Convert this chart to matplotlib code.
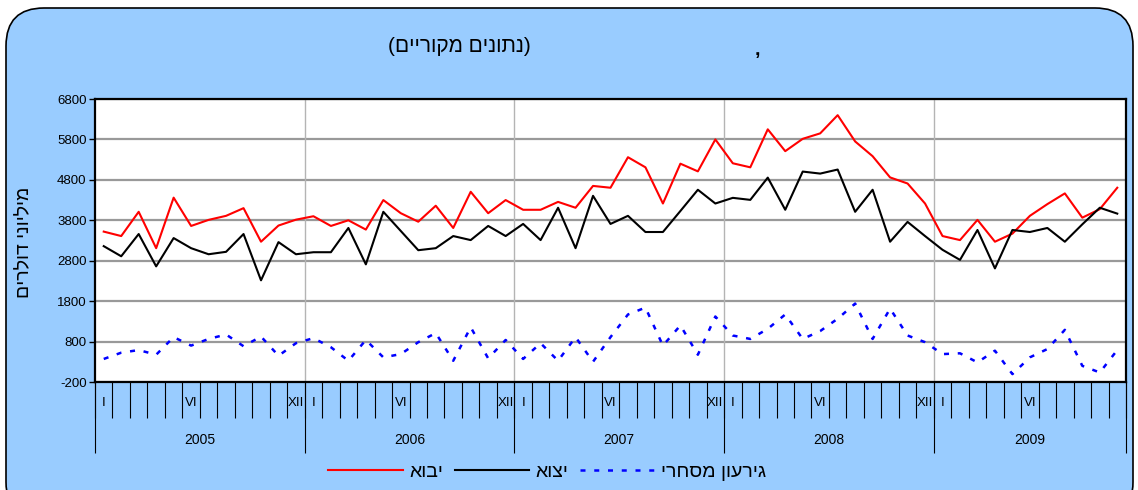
#!/usr/bin/env python3
import matplotlib
matplotlib.use('Agg')
import matplotlib.pyplot as plt
from matplotlib.patches import FancyBboxPatch

plt.rcParams['font.family'] = ['Liberation Sans', 'DejaVu Sans']

# monthly values, millions of dollars (Jan 2005 - Nov 2009)
imports = [3520, 3410, 4010, 3110, 4360, 3660, 3810, 3910, 4100, 3270, 3670, 3815,
           3900, 3660, 3800, 3570, 4300, 3975, 3765, 4160, 3610, 4505, 3975, 4300,
           4060, 4060, 4255, 4110, 4650, 4605, 5360, 5110, 4215, 5200, 5010, 5800,
           5210, 5110, 6050, 5510, 5815, 5950, 6400, 5750, 5385, 4860, 4710, 4215,
           3410, 3310, 3810, 3270, 3470, 3910, 4200, 4465, 3865, 4075, 4605]
exports = [3160, 2910, 3460, 2660, 3360, 3110, 2960, 3020, 3460, 2315, 3260, 2960,
           3010, 3010, 3610, 2710, 4010, 3535, 3060, 3110, 3410, 3310, 3660, 3410,
           3710, 3310, 4110, 3110, 4405, 3710, 3910, 3510, 3510, 4030, 4555, 4215,
           4355, 4305, 4855, 4060, 5005, 4955, 5055, 4010, 4555, 3270, 3760, 3410,
           3070, 2820, 3560, 2610, 3560, 3510, 3610, 3270, 3700, 4110, 3965]
deficit = [370, 525, 590, 475, 910, 700, 865, 975, 685, 925, 450, 760,
           885, 660, 325, 840, 410, 490, 785, 1010, 325, 1155, 385, 840,
           370, 760, 325, 910, 300, 910, 1470, 1640, 700, 1200, 475, 1420,
           950, 865, 1115, 1470, 865, 1060, 1365, 1740, 865, 1615, 950, 785,
           490, 510, 285, 575, -5, 410, 615, 1090, 200, 35, 590]

years = ['2005', '2006', '2007', '2008', '2009']
months_per_year = [12, 12, 12, 12, 11]
month_labels = {0: 'I', 5: 'VI', 11: 'XII'}
yticks = [-200, 800, 1800, 2800, 3800, 4800, 5800, 6800]


def heb(s):
    # matplotlib has no bidi: give Hebrew in visual order
    swap = {'(': ')', ')': '('}
    return ''.join(swap.get(c, c) for c in s[::-1])


n = len(imports)
x = list(range(n))

fig = plt.figure(figsize=(11.38, 4.9), dpi=100)
fig.patch.set_facecolor('white')
bg = FancyBboxPatch((0.06, -0.3), 11.27, 5.12,
                    boxstyle='round,pad=0,rounding_size=0.38',
                    transform=fig.dpi_scale_trans, facecolor='#99CCFF',
                    edgecolor='black', linewidth=1.2, zorder=-10)
fig.patches.append(bg)

ax = fig.add_axes([95 / 1138, 1 - 382 / 490, 1031 / 1138, 283 / 490])
ax.set_facecolor('white')

ax.plot(x, imports, color='#FF0000', lw=1.5, label=heb('יבוא'), zorder=3)
ax.plot(x, exports, color='black', lw=1.5, label=heb('יצוא'), zorder=3)
ax.plot(x, deficit, color='#0000FF', lw=1.8, linestyle=(0, (2, 3.5)),
        label=heb('גירעון מסחרי'), zorder=3)

ax.set_xlim(-0.5, n - 0.5)
ax.set_ylim(-200, 6800)
ax.set_yticks(yticks)
ax.set_yticklabels([str(v) for v in yticks], fontsize=9.5)
ax.tick_params(axis='y', direction='out', length=4, width=1, pad=2)
ax.yaxis.grid(True, color='#999999', lw=1.6)
ax.set_axisbelow(True)

# year boundaries
bounds = [-0.5]
for m in months_per_year:
    bounds.append(bounds[-1] + m)
for b in bounds[1:-1]:
    ax.axvline(b, color='#B4B4B4', lw=1, zorder=1)

# month ticks + labels
centers, labs = [], []
start = 0
for m in months_per_year:
    for k in range(m):
        centers.append(start + k)
        labs.append(month_labels.get(k, ''))
    start += m
ax.set_xticks(centers)
ax.set_xticklabels(labs, fontsize=9.5)
ax.set_xticks([i - 0.5 for i in range(n + 1)], minor=True)
ax.tick_params(axis='x', which='major', length=0, pad=11)
ax.tick_params(axis='x', which='minor', direction='out', length=26, width=0.8)

sec = ax.secondary_xaxis('bottom')
sec.set_xticks(bounds)
sec.set_xticklabels([''] * len(bounds))
year_centers = [(bounds[i] + bounds[i + 1]) / 2 for i in range(len(years))]
sec.set_xticks(year_centers, minor=True)
sec.set_xticklabels(years, minor=True, fontsize=10)
sec.tick_params(axis='x', which='major', direction='out', length=51, width=0.8)
sec.tick_params(axis='x', which='minor', length=0, pad=37)
sec.spines['bottom'].set_visible(False)

for s in ax.spines.values():
    s.set_color('black')
    s.set_linewidth(1.6)

fig.text(25 / 1138, 1 - 242 / 490, heb('מיליוני דולרים'), rotation=90,
         ha='center', va='center', fontsize=14)
fig.text(459 / 1138, 1 - 47 / 490, heb('(נתונים מקוריים)'),
         ha='center', va='center', fontsize=15)
fig.text(757 / 1138, 1 - 50 / 490, ',', ha='center', va='center',
         fontsize=14, fontweight='bold')

handles, labels = ax.get_legend_handles_labels()
fig.legend(handles, labels, loc='center', bbox_to_anchor=(547 / 1138, 1 - 472 / 490),
           ncol=3, frameon=False, fontsize=14, handlelength=3.85,
           handletextpad=0.3, columnspacing=0.6, borderpad=0.1)

fig.savefig('out.png', dpi=100)
